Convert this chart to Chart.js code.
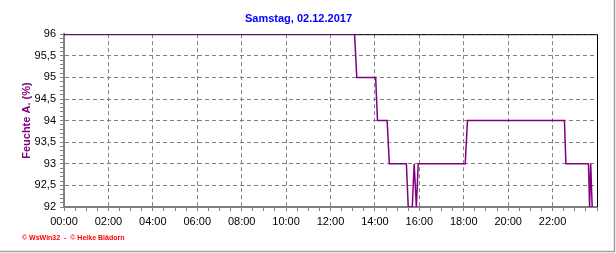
<!DOCTYPE html>
<html>
<head>
<meta charset="utf-8">
<script src="https://cdn.jsdelivr.net/npm/chart.js@4.4.0/dist/chart.umd.min.js"></script>
<style>
  html, body { margin: 0; padding: 0; background: #fff; }
</style>
</head>
<body>
<canvas id="feuchte-chart" width="616" height="253"></canvas>
<script>
// Wechselpunkte der Kurve (Uhrzeit) und Feuchte A. in %
const zeiten  = ['00:00', '13:05', '13:11', '14:02', '14:07', '14:33', '14:39', '15:25', '15:30', '15:41', '15:46',
                 '15:52', '15:57', '18:04', '18:10', '22:32', '22:36', '23:37', '23:40', '23:43', '23:47'];
const feuchte = [96, 96, 95, 95, 94, 94, 93, 93, 92, 92, 93,
                 92, 93, 93, 94, 94, 93, 93, 92, 93, 92];

// Achsenbeschriftung
const xLabels = ['00:00', '02:00', '04:00', '06:00', '08:00', '10:00', '12:00', '14:00', '16:00', '18:00', '20:00', '22:00'];
const yLabels = ['92', '92,5', '93', '93,5', '94', '94,5', '95', '95,5', '96'];

const titel = 'Samstag, 02.12.2017';
const yTitel = 'Feuchte A. (%)';
const fussText = '\u00A9 WsWin32  -  \u00A9 Heike Bl\u00E4dorn';

const schrift = 'Arial, "Liberation Sans", sans-serif';
const grau = '#808080';

function zuStunden(t) {
    const [h, m] = t.split(':').map(Number);
    return h + m / 60;
}

const punkte = zeiten.map((t, i) => ({ x: zuStunden(t), y: feuchte[i] }));

// Rahmen oben/rechts, Fusszeile, grauer Aussenrand
const rahmenPlugin = {
    id: 'rahmen',
    beforeDatasetsDraw(chart) {
        const { ctx, chartArea: a } = chart;
        ctx.save();
        ctx.strokeStyle = '#000';
        ctx.lineWidth = 1;
        ctx.beginPath();
        ctx.moveTo(a.left, a.top + 0.5);
        ctx.lineTo(a.right + 0.5, a.top + 0.5);
        ctx.lineTo(a.right + 0.5, a.bottom);
        ctx.stroke();
        ctx.restore();
    },
    afterDraw(chart) {
        const { ctx, width, height } = chart;
        ctx.save();
        ctx.fillStyle = '#ff0000';
        ctx.font = 'bold 7px ' + schrift;
        ctx.textBaseline = 'middle';
        ctx.fillText(fussText, 22, 238);
        ctx.strokeStyle = '#a0a0a0';
        ctx.lineWidth = 1.5;
        ctx.beginPath();
        ctx.moveTo(0, height - 1.5);
        ctx.lineTo(width - 1.5, height - 1.5);
        ctx.lineTo(width - 1.5, 0);
        ctx.stroke();
        ctx.restore();
    }
};

new Chart(document.getElementById('feuchte-chart'), {
    type: 'line',
    data: {
        datasets: [{
            data: punkte,
            borderColor: '#800080',
            borderWidth: 1.5,
            pointRadius: 0,
            tension: 0,
            fill: false
        }]
    },
    options: {
        responsive: false,
        animation: false,
        layout: { padding: { left: 0, right: 19, top: 0, bottom: 0 } },
        plugins: {
            legend: { display: false },
            tooltip: { enabled: false },
            title: {
                display: true,
                text: titel,
                color: '#0000ff',
                font: { family: schrift, size: 11, weight: 'bold' },
                padding: { top: 12, bottom: 9 }
            }
        },
        scales: {
            x: {
                type: 'linear',
                min: 0,
                max: 24,
                afterFit: s => { s.height = 46; },
                ticks: {
                    stepSize: 0.5,
                    autoSkip: false,
                    maxRotation: 0,
                    minRotation: 0,
                    padding: 4,
                    color: '#000',
                    font: { family: schrift, size: 11 },
                    callback: v => (v % 2 === 0 && v < 24) ? xLabels[v / 2] : ''
                },
                grid: {
                    color: c => (c.tick && c.tick.value % 2 === 0) ? grau : 'rgba(0,0,0,0)',
                    tickColor: grau,
                    tickLength: 4,
                    lineWidth: 1
                },
                border: { display: true, color: grau, width: 2, dash: [4, 3] }
            },
            y: {
                min: 92,
                max: 96,
                afterFit: s => { s.width = 64; },
                ticks: {
                    stepSize: 0.1,
                    autoSkip: false,
                    padding: 4,
                    color: '#000',
                    font: { family: schrift, size: 11 },
                    callback: v => {
                        const r = Math.round(v * 10);
                        return r % 5 === 0 ? yLabels[(r - 920) / 5] : '';
                    }
                },
                grid: {
                    color: c => (c.tick && Math.round(c.tick.value * 10) % 5 === 0) ? grau : 'rgba(0,0,0,0)',
                    tickColor: grau,
                    tickLength: 4,
                    lineWidth: 1
                },
                border: { display: true, color: grau, width: 2, dash: [4, 3] },
                title: {
                    display: true,
                    text: yTitel,
                    color: '#800080',
                    font: { family: schrift, size: 11, weight: 'bold' },
                    padding: { top: 20, bottom: 0 }
                }
            }
        }
    },
    plugins: [rahmenPlugin]
});
</script>
</body>
</html>
